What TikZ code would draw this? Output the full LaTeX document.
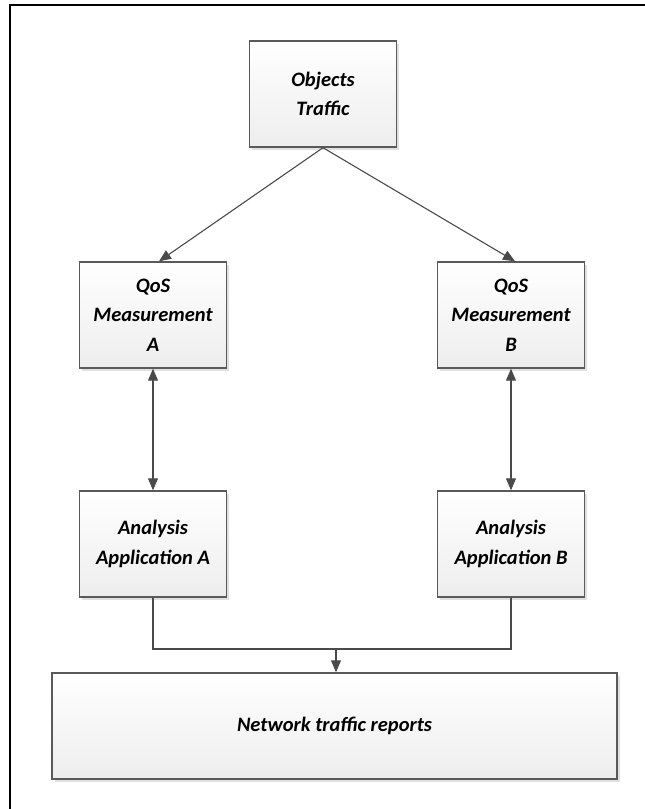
\documentclass[tikz,border=0pt]{standalone}
\usepackage{fontspec}
\setmainfont{Carlito}
\usetikzlibrary{arrows.meta,shadows}
\definecolor{edge}{HTML}{4A4A4A}
\definecolor{boxline}{HTML}{5A5A5A}
\tikzset{
  box/.style={draw=boxline, line width=1.4pt, top color=white, bottom color=black!7,
    drop shadow={shadow xshift=2.5pt, shadow yshift=-2.5pt, fill=black, opacity=0.12},
    align=center, inner sep=2pt,
    font=\fontsize{20.5}{29.5}\selectfont\bfseries\itshape, text=black},
  smallbox/.style={box, minimum width=147pt, minimum height=106pt},
  conn/.style={draw=edge, line width=1.1pt},
  arr/.style={conn, -{Triangle[length=12pt,width=10pt]}},
  darr/.style={conn, {Triangle[length=12pt,width=10pt]}-{Triangle[length=12pt,width=10pt]}}
}
\begin{document}
\begin{tikzpicture}[x=1pt,y=-1pt]
\useasboundingbox (0,0) rectangle (645,809);
\fill[white] (0,0) rectangle (645,809);
\draw[black, line width=2pt] (10,812) -- (10,5) -- (648,5);

\node[smallbox] (obj) at (323,94) {Objects\\Traffic};
\node[smallbox] (qa) at (153,315) {QoS\\Measurement\\A};
\node[smallbox] (qb) at (511,315) {QoS\\Measurement\\B};
\node[smallbox] (aa) at (153,544) {Analysis\\Application A};
\node[smallbox] (ab) at (511,544) {Analysis\\Application B};
\node[box, minimum width=565pt, minimum height=106pt] (net) at (334.5,726) {Network traffic reports};

\draw[arr] (obj.south) -- ([xshift=6pt]qa.north);
\draw[arr] (obj.south) -- ([xshift=4pt]qb.north);
\draw[darr] (qa.south) -- (aa.north);
\draw[darr] (qb.south) -- (ab.north);

\coordinate (j) at (336,649);
\draw[conn] (aa.south) |- (j) -| (ab.south);
\draw[arr] (j) -- (j |- net.north);
\end{tikzpicture}
\end{document}
